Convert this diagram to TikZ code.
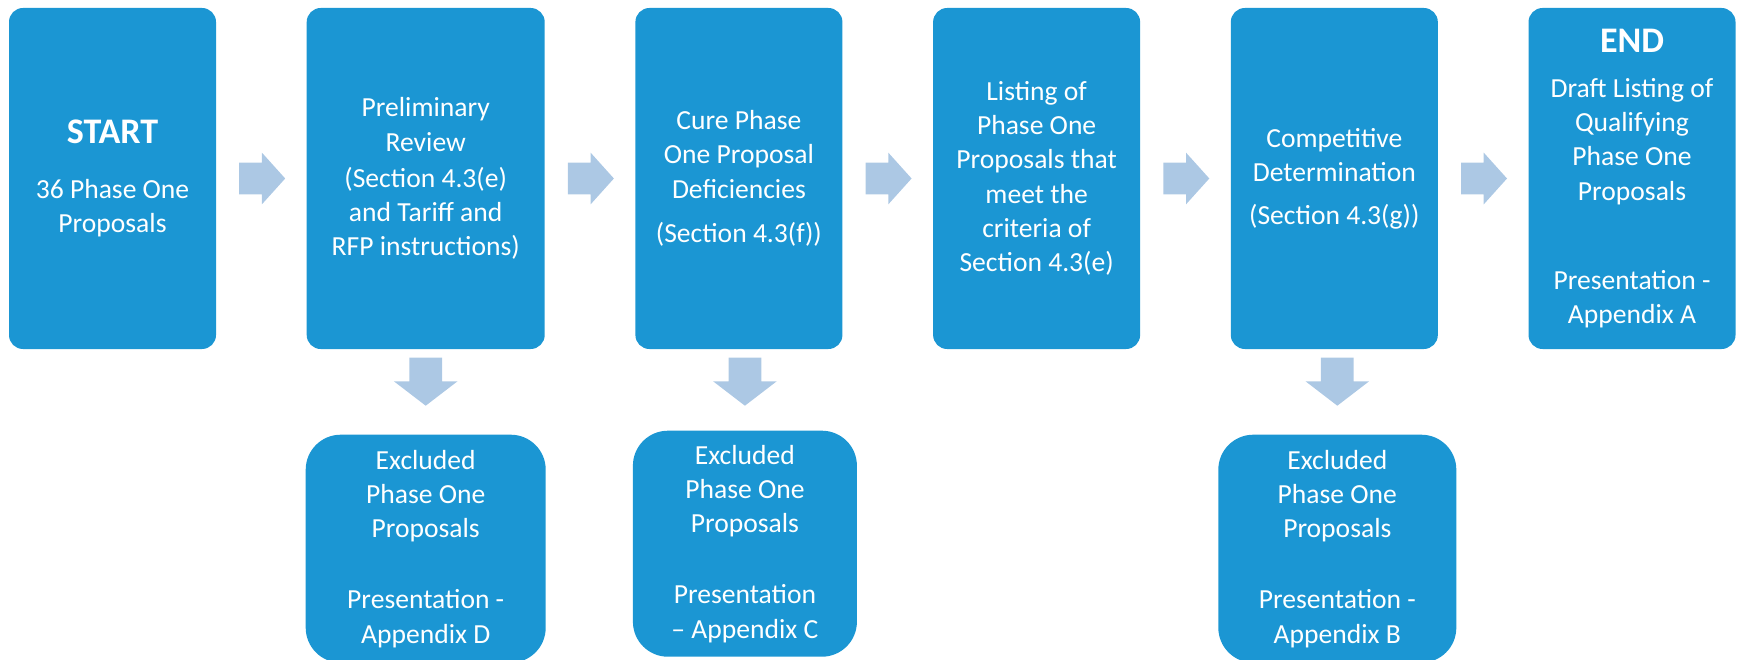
\documentclass[tikz,border=0pt]{standalone}
\usepackage{fontspec}
\setmainfont{Carlito}
\usepackage{tikz}
\usetikzlibrary{positioning,calc,shapes.arrows}
\definecolor{boxblue}{RGB}{27,150,211}
\definecolor{arrowblue}{RGB}{172,200,228}
\newcommand{\boxfont}{\fontsize{15.7}{19.5}\selectfont}
\newcommand{\headfont}{\fontsize{20.5}{24}\selectfont\bfseries}

\begin{document}
\begin{tikzpicture}[node distance=1.8cm]
        \tikzstyle{stepbox}=[fill=boxblue, text=white, align=center, inner sep=0pt, rounded corners=.28cm, minimum width=4.14cm, minimum height=6.82cm, font=\boxfont];
        \tikzstyle{outbox}=[fill=boxblue, text=white, align=center, inner sep=0pt, rounded corners=.7cm, minimum height=4.56cm, font=\boxfont];
        \tikzstyle{harrow}=[single arrow, fill=arrowblue, inner sep=.31cm, minimum height=.9cm, single arrow head extend=.2cm, single arrow tip angle=96];
        \tikzstyle{varrow}=[harrow, shape border rotate=270, inner sep=.32cm, minimum height=.96cm, single arrow head extend=.31cm, single arrow tip angle=105];
        \useasboundingbox (0,0) rectangle (34.76,-13.2);
        \node[stepbox] (start) at (2.25,-3.57) {{\headfont START}\\[11.3pt] 36 Phase One\\ Proposals};
        \node[stepbox, right = of start, minimum width=4.76cm] (prelim) {Preliminary\\ Review\\[1pt] (Section 4.3(e)\\ and Tariff and\\ RFP instructions)};
        \node[stepbox, right = of prelim] (cure) {Cure Phase\\ One Proposal\\ Deficiencies\\[6pt] (Section 4.3(f))};
        \node[stepbox, right = of cure] (listing) {Listing of\\ Phase One\\ Proposals that\\ meet the\\ criteria of\\ Section 4.3(e)};
        \node[stepbox, right = of listing] (compet) {Competitive\\ Determination\\[5pt] (Section 4.3(g))};
        \node[stepbox, right = of compet] (end) {{\headfont END}\\[6pt] Draft Listing of\\ Qualifying\\ Phase One\\ Proposals\\[31pt] Presentation -\\ Appendix A};
        \node[outbox, below = 1.7cm of prelim, minimum width=4.8cm] (exclD) {Excluded\\ Phase One\\ Proposals\\[21pt] Presentation -\\ Appendix D};
        \node[outbox, below = 1.62cm of cure, xshift=.12cm, minimum width=4.48cm, minimum height=4.52cm] (exclC) {Excluded\\ Phase One\\ Proposals\\[21pt] Presentation\\ -- Appendix C};
        \node[outbox, below = 1.7cm of compet, xshift=.06cm, minimum width=4.76cm] (exclB) {Excluded\\ Phase One\\ Proposals\\[21pt] Presentation -\\ Appendix B};
        \node[harrow, anchor=tail] (a1) at ($(start.east)!.5!(prelim.west)+(-.45,0)$) {};
        \node[harrow, anchor=tail] (a2) at ($(prelim.east)!.5!(cure.west)+(-.45,0)$) {};
        \node[harrow, anchor=tail] (a3) at ($(cure.east)!.5!(listing.west)+(-.45,0)$) {};
        \node[harrow, anchor=tail] (a4) at ($(listing.east)!.5!(compet.west)+(-.45,0)$) {};
        \node[harrow, anchor=tail] (a5) at ($(compet.east)!.5!(end.west)+(-.45,0)$) {};
        \node[varrow, anchor=tail] (d1) at ($(exclD.north |- prelim.south)+(0,-.16)$) {};
        \node[varrow, anchor=tail] (d2) at ($(exclC.north |- cure.south)+(0,-.16)$) {};
        \node[varrow, anchor=tail] (d3) at ($(exclB.north |- compet.south)+(0,-.16)$) {};
    \end{tikzpicture}
\end{document}
